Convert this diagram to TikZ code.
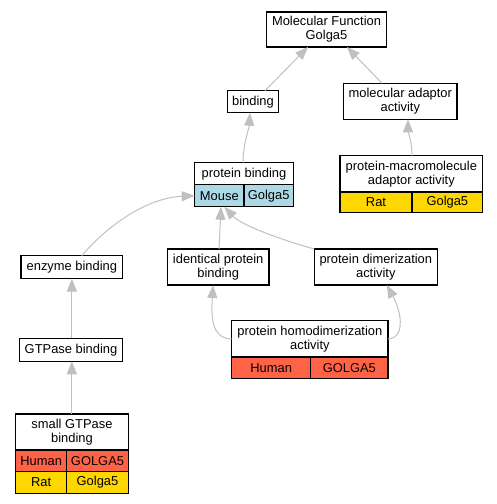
\documentclass[tikz,border=0pt]{standalone}
\usepackage{fontspec}
\setmainfont{Liberation Sans}
\usetikzlibrary{arrows.meta}
\definecolor{edgegray}{HTML}{C0C0C0}
\definecolor{cellblue}{HTML}{ADD8E6}
\definecolor{cellgold}{HTML}{FFD700}
\definecolor{celltomato}{HTML}{FF6347}
\begin{document}
\begin{tikzpicture}[x=1pt,y=-1pt,
  box/.style={draw=black, line width=1.1pt, fill=white, inner sep=0pt, outer sep=0pt,
    align=center, font=\fontsize{12.9}{13.9}\selectfont},
  wh/.style 2 args={minimum width=#1pt, minimum height=#2pt},
  bluecell/.style={box, fill=cellblue},
  goldcell/.style={box, fill=cellgold},
  redcell/.style={box, fill=celltomato},
  edge/.style={draw=edgegray, line width=1pt, -{Triangle[length=13pt,width=10pt]}}]
\useasboundingbox (0,0) rectangle (497,504);
% nodes
\node[box, wh={120}{35}] (mf) at (326.5,29.5) {Molecular Function\\Golga5};
\node[box, wh={50.6}{22}] (bind) at (253,101.7) {binding};
\node[box, wh={113.3}{36}] (adapt) at (400.3,101.3) {molecular adaptor\\activity};
\node[box, wh={98.6}{22}] (pb) at (244,173.7) {protein binding};
\node[bluecell, wh={49.3}{22}] (pbm) at (219.35,195.7) {Mouse};
\node[bluecell, wh={49.3}{22}] (pbg) at (268.65,195.7) {Golga5};
\node[box, wh={142.7}{36.3}] (pm) at (411.35,173.85) {protein-macromolecule\\adaptor activity};
\node[goldcell, wh={72}{20.7}] (pmr) at (376,202.35) {Rat};
\node[goldcell, wh={70.7}{20.7}] (pmg) at (447.35,202.35) {Golga5};
\node[box, wh={101.7}{23}] (enz) at (71.85,267.2) {enzyme binding};
\node[box, wh={101.7}{36}] (ident) at (218.15,267) {identical protein\\binding};
\node[box, wh={123}{36}] (dimer) at (375.8,267) {protein dimerization\\activity};
\node[box, wh={103.4}{23}] (gtp) at (71,349.8) {GTPase binding};
\node[box, wh={156.3}{36.3}] (hd) at (309.85,338.85) {protein homodimerization\\activity};
\node[redcell, wh={79}{21.3}] (hdh) at (271.2,367.65) {Human};
\node[redcell, wh={77.3}{21.3}] (hdg) at (349.35,367.65) {GOLGA5};
\node[box, wh={112.6}{36}] (small) at (72,432) {small GTPase\\binding};
\node[redcell, wh={51}{21.3}] (smh) at (41.2,460.65) {Human};
\node[redcell, wh={61.6}{21.3}] (smg) at (97.5,460.65) {GOLGA5};
\node[goldcell, wh={51}{22}] (smr) at (41.2,482.3) {Rat};
\node[goldcell, wh={61.6}{22}] (smg2) at (97.5,482.3) {Golga5};
% edges
\draw[edge] ([xshift=12pt]bind.north) -- ([xshift=-18.5pt]mf.south);
\draw[edge] ([xshift=-18.3pt]adapt.north) -- ([xshift=20.5pt]mf.south);
\draw[edge] ([xshift=-1pt]pb.north) .. controls ([xshift=-1pt,yshift=18pt]pb.north) and ([xshift=-4pt,yshift=-16pt]bind.south) .. ([xshift=-3pt]bind.south);
\draw[edge] ([xshift=0.65pt]pm.north) .. controls ([xshift=0.65pt,yshift=14pt]pm.north) and ([xshift=7.7pt,yshift=-12pt]adapt.south) .. ([xshift=7.7pt]adapt.south);
\draw[edge] ([xshift=10pt]enz.north) .. controls (105,228) and (145,198) .. (pbm.west);
\draw[edge] ([xshift=0.85pt]ident.north) -- ([xshift=1.65pt]pbm.south);
\draw[edge] (dimer.north west) .. controls (275,238) and (240,224) .. ([xshift=5pt]pbm.south);
\draw[edge] ([xshift=0.85pt]gtp.north) -- (enz.south);
\draw[edge] ([xshift=-0.15pt]small.north) -- ([xshift=0.85pt]gtp.south);
\draw[edge] (hd.west) .. controls (212,338.85) and (211,318) .. ([xshift=-5pt]ident.south);
\draw[edge] (hd.east) .. controls (404,338.85) and (403,315) .. ([xshift=11pt]dimer.south);
\end{tikzpicture}
\end{document}
